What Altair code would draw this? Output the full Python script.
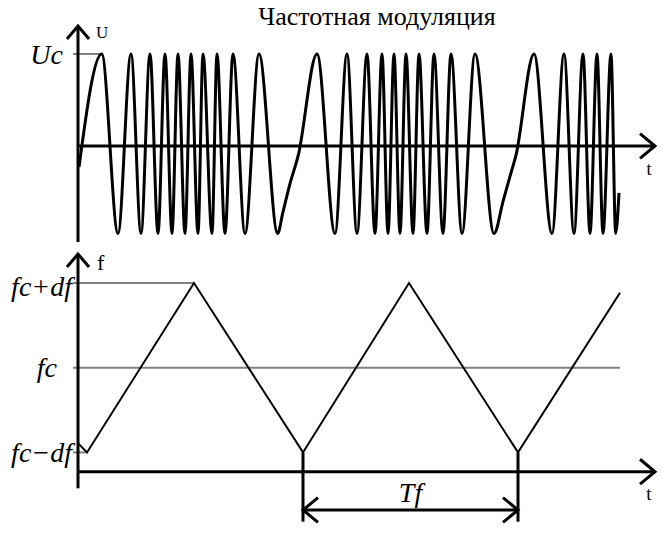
import altair as alt
import pandas as pd

# ---------------- values ----------------
# time t in arbitrary units (0 = vertical axes); U in units of Uc; f as fc + k*df
sig_t = [1, 23.7, 40, 53, 63, 72, 80, 87, 94, 100, 107, 113, 120, 125, 134, 139, 147, 155, 167, 181, 199.7,
         204.7, 212, 220.3,
         239, 257, 269, 279, 289, 297, 304, 310, 316, 322, 328, 335, 341, 349, 356, 365, 373, 384, 397, 416,
         425.3, 432, 438,
         456, 474, 486, 496, 505, 512, 519, 525, 533, 537.7, 541]
sig_u = [-0.23, 1, -0.95, 1, -0.95, 1, -0.95, 1, -0.95, 1, -0.95, 1, -0.95, 1, -0.95, 1, -0.95, 1, -0.95, 1, -0.95,
         -0.73, -0.41, -0.10,
         1, -0.95, 1, -0.95, 1, -0.95, 1, -0.95, 1, -0.95, 1, -0.95, 1, -0.95, 1, -0.95, 1, -0.95, 1, -0.95,
         -0.59, -0.33, -0.10,
         1, -0.95, 1, -0.95, 1, -0.95, 1, -0.95, 1, -0.95,
         -0.51]
assert len(sig_t) == len(sig_u)

tri_t = [0, 9, 116, 225, 331, 440, 542]
tri_f = [-0.89, -1, 1, -1, 1, -1, 0.885]

level_f = [1, 0, -1]
level_label = ["fc+df", "fc", "fc\u2212df"]
level_t_end = [116, 542, 9]

uc_level = 1.0
uc_t_end = 23.7

period_t = [225, 440]          # Tf marks
title_text = "Частотная модуляция"

# ---------------- layout / scale settings ----------------
W = 663
H_TOP, H_BOT = 245, 296
T_DOMAIN = [-78, 585]
U_DOMAIN = [-1.076, 1.587]
F_DOMAIN = [-2.046, 1.449]

T_AXIS_END = 577
U_AXIS = [-1.043, 1.304]
F_AXIS = [-1.424, 1.342]
F_TAXIS = -1.228
F_MARK_BOTTOM = -1.818
F_TF = -1.68
GRAY_START = -5

FONT = "Liberation Serif"
BLACK = "#000000"
GRAY = "#808080"
ITALIC_SIZE = 28

UP = "M -0.85 1 L 0 0 L 0.85 1"
RIGHT = "M -1 -0.83 L 0 0 L -1 0.83"
LEFT = "M 1 -0.83 L 0 0 L 1 0.83"


def xs(field="t"):
    return alt.X(field, type="quantitative",
                 scale=alt.Scale(domain=T_DOMAIN, nice=False, zero=False), axis=None)


def ys(field, domain):
    return alt.Y(field, type="quantitative",
                 scale=alt.Scale(domain=domain, nice=False, zero=False), axis=None)


def arrow(df, shape, domain, size):
    return alt.Chart(df).mark_point(shape=shape, size=size, filled=False, stroke=BLACK,
                                    strokeWidth=3, opacity=1, strokeJoin="miter").encode(
        x=xs("t"), y=ys("v", domain))


def label(df, text, domain, align, dx, dy, size, italic=True):
    kw = dict(fontStyle="italic") if italic else {}
    return alt.Chart(df).mark_text(text=text, align=align, baseline="alphabetic", dx=dx, dy=dy,
                                   font=FONT, fontSize=size, color=BLACK, **kw).encode(
        x=xs("t"), y=ys("v", domain))


# ---------------- top panel: FM signal ----------------
sig_df = pd.DataFrame({"t": sig_t, "u": sig_u, "i": range(len(sig_t))})

uc_line = alt.Chart(pd.DataFrame({"t": [GRAY_START], "t2": [uc_t_end], "v": [uc_level]})).mark_rule(
    color=GRAY, strokeWidth=2).encode(x=xs("t"), x2="t2", y=ys("v", U_DOMAIN))

top_vaxis = alt.Chart(pd.DataFrame({"t": [0], "v": [U_AXIS[0]], "v2": [U_AXIS[1]]})).mark_rule(
    color=BLACK, strokeWidth=3).encode(x=xs("t"), y=ys("v", U_DOMAIN), y2="v2")
top_haxis = alt.Chart(pd.DataFrame({"t": [0], "t2": [T_AXIS_END], "v": [0]})).mark_rule(
    color=BLACK, strokeWidth=3).encode(x=xs("t"), x2="t2", y=ys("v", U_DOMAIN))

top_up = arrow(pd.DataFrame({"t": [0], "v": [U_AXIS[1]]}), UP, U_DOMAIN, 676)
top_right = arrow(pd.DataFrame({"t": [T_AXIS_END], "v": [0]}), RIGHT, U_DOMAIN, 900)

signal = alt.Chart(sig_df).mark_line(color=BLACK, strokeWidth=3, interpolate="monotone").encode(
    x=xs("t"), y=ys("u", U_DOMAIN), order="i:Q")

lbl_uc = label(pd.DataFrame({"t": [0], "v": [uc_level]}), "Uc", U_DOMAIN, "right", -15, 10, ITALIC_SIZE)
lbl_u = label(pd.DataFrame({"t": [0], "v": [U_AXIS[1]]}), "U", U_DOMAIN, "left", 18, 12, 17, italic=False)
lbl_t1 = label(pd.DataFrame({"t": [T_AXIS_END], "v": [0]}), "t", U_DOMAIN, "center", -6, 29, 18, italic=False)

title = alt.Chart(pd.DataFrame({"t": [0], "v": [0]})).mark_text(
    text=title_text, align="center", baseline="alphabetic", font=FONT, fontSize=26, color=BLACK).encode(
    x=alt.value(377), y=alt.value(25))

top = alt.layer(uc_line, top_vaxis, top_haxis, top_up, top_right, signal,
                lbl_uc, lbl_u, lbl_t1, title).properties(width=W, height=H_TOP)

# ---------------- bottom panel: instantaneous frequency ----------------
lev_df = pd.DataFrame({"t": [GRAY_START] * 3, "t2": level_t_end, "v": level_f, "lab": level_label})
levels = alt.Chart(lev_df).mark_rule(color=GRAY, strokeWidth=2).encode(
    x=xs("t"), x2="t2", y=ys("v", F_DOMAIN))

tri_df = pd.DataFrame({"t": tri_t, "f": tri_f, "i": range(len(tri_t))})
tri = alt.Chart(tri_df).mark_line(color=BLACK, strokeWidth=2).encode(
    x=xs("t"), y=ys("f", F_DOMAIN), order="i:Q")

bot_vaxis = alt.Chart(pd.DataFrame({"t": [0], "v": [F_AXIS[0]], "v2": [F_AXIS[1]]})).mark_rule(
    color=BLACK, strokeWidth=3).encode(x=xs("t"), y=ys("v", F_DOMAIN), y2="v2")
bot_haxis = alt.Chart(pd.DataFrame({"t": [0], "t2": [T_AXIS_END], "v": [F_TAXIS]})).mark_rule(
    color=BLACK, strokeWidth=3).encode(x=xs("t"), x2="t2", y=ys("v", F_DOMAIN))
bot_up = arrow(pd.DataFrame({"t": [0], "v": [F_AXIS[1]]}), UP, F_DOMAIN, 676)
bot_right = arrow(pd.DataFrame({"t": [T_AXIS_END], "v": [F_TAXIS]}), RIGHT, F_DOMAIN, 900)

marks_df = pd.DataFrame({"t": period_t, "v": [-1, -1], "v2": [F_MARK_BOTTOM] * 2})
period_marks = alt.Chart(marks_df).mark_rule(color=BLACK, strokeWidth=3).encode(
    x=xs("t"), y=ys("v", F_DOMAIN), y2="v2")
tf_line = alt.Chart(pd.DataFrame({"t": [period_t[0]], "t2": [period_t[1]], "v": [F_TF]})).mark_rule(
    color=BLACK, strokeWidth=3).encode(x=xs("t"), x2="t2", y=ys("v", F_DOMAIN))
tf_left = arrow(pd.DataFrame({"t": [period_t[0]], "v": [F_TF]}), LEFT, F_DOMAIN, 900)
tf_right = arrow(pd.DataFrame({"t": [period_t[1]], "v": [F_TF]}), RIGHT, F_DOMAIN, 900)

lbl_hi = label(pd.DataFrame({"t": [0], "v": [level_f[0]]}), level_label[0], F_DOMAIN, "right", -6, 13, ITALIC_SIZE)
lbl_mid = label(pd.DataFrame({"t": [0], "v": [level_f[1]]}), level_label[1], F_DOMAIN, "right", -21, 9, ITALIC_SIZE)
lbl_lo = label(pd.DataFrame({"t": [0], "v": [level_f[2]]}), level_label[2], F_DOMAIN, "right", -6, 10, ITALIC_SIZE)
lbl_f = label(pd.DataFrame({"t": [0], "v": [F_AXIS[1]]}), "f", F_DOMAIN, "left", 19, 16, 22, italic=False)
lbl_t2 = label(pd.DataFrame({"t": [T_AXIS_END], "v": [F_TAXIS]}), "t", F_DOMAIN, "center", -6, 28, 19, italic=False)
lbl_tf = label(pd.DataFrame({"t": [(period_t[0] + period_t[1]) / 2], "v": [F_TF]}), "Tf", F_DOMAIN,
               "center", 0, -8, ITALIC_SIZE)

bottom = alt.layer(levels, tri, bot_vaxis, bot_haxis, bot_up, bot_right, period_marks, tf_line,
                   tf_left, tf_right, lbl_hi, lbl_mid, lbl_lo, lbl_f, lbl_t2, lbl_tf).properties(
    width=W, height=H_BOT)

chart = alt.vconcat(top, bottom, spacing=0).properties(padding=0, background="white").configure_view(
    stroke=None)

chart.save("out.html", embed_options={"renderer": "svg", "actions": False})
